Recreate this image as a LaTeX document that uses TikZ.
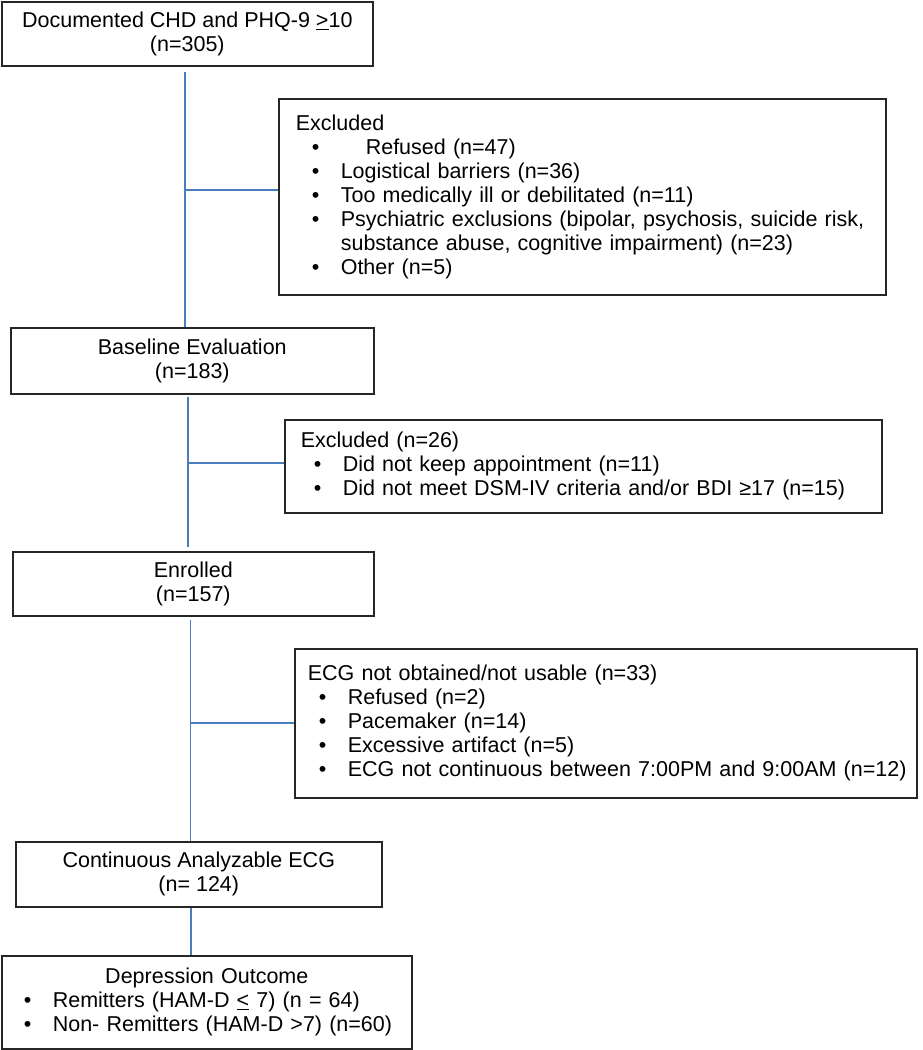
\documentclass[tikz,border=0pt]{standalone}
\usepackage{fontspec}
\setmainfont{Liberation Sans}
\newcommand\fs{\fontsize{21.5pt}{24pt}\selectfont}
\newcommand\bl[2]{\makebox[#2pt][l]{\hspace*{#1pt}\textbullet}}
\definecolor{conncol}{RGB}{74,126,187}
\begin{document}
\begin{tikzpicture}[x=1pt,y=-1pt,
  box/.style={draw=black!85, line width=1.6pt, inner sep=0pt, anchor=north west, font=\fs, align=center},
  lst/.style={box, align=left},
  conn/.style={draw=conncol, line width=1.3pt}]
\useasboundingbox (0,0) rectangle (923,1050);

\node[box, minimum width=371pt, minimum height=64pt] (b1) at (1,1) {Documented CHD and PHQ-9 \underline{>}10\\(n=305)};

\node[lst, minimum height=196pt, text width=573pt, inner xsep=17pt] (e1) at (278,98) {Excluded\\\bl{16}{45}\hspace*{25pt}Refused (n=47)\\\bl{16}{45}Logistical barriers (n=36)\\\bl{16}{45}Too medically ill or debilitated (n=11)\\\bl{16}{45}\mbox{Psychiatric exclusions (bipolar, psychosis, suicide risk,}\\\hspace*{45pt}substance abuse, cognitive impairment) (n=23)\\\bl{16}{45}Other (n=5)};

\node[box, minimum width=363pt, minimum height=66pt] (b2) at (10,327) {Baseline Evaluation\\(n=183)};

\node[lst, minimum height=93pt, text width=565pt, inner xsep=16pt] (e2) at (284,419) {Excluded (n=26)\\\bl{13}{42}Did not keep appointment (n=11)\\\bl{13}{42}Did not meet DSM-IV criteria and/or BDI ≥17 (n=15)};

\node[box, minimum width=361pt, minimum height=64pt] (b3) at (12,551) {Enrolled\\(n=157)};

\node[lst, minimum height=149pt, text width=596pt, inner xsep=13pt] (ecg) at (294,648) {ECG not obtained/not usable (n=33)\\\bl{11}{40}Refused (n=2)\\\bl{11}{40}Pacemaker (n=14)\\\bl{11}{40}Excessive artifact (n=5)\\\bl{11}{40}\mbox{ECG not continuous between 7:00PM and 9:00AM (n=12)}};

\node[box, minimum width=366pt, minimum height=65pt] (b4) at (15,841) {Continuous Analyzable ECG\\(n= 124)};

\node[lst, minimum height=93pt, text width=390pt, inner xsep=10pt] (b5) at (1,955) {\makebox[390pt][c]{Depression Outcome}\\\bl{12}{41}Remitters (HAM-D \underline{<} 7) (n = 64)\\\bl{12}{41}Non- Remitters (HAM-D >7) (n=60)};

\coordinate (k1) at (185,190);
\coordinate (k2) at (188,463);
\coordinate (k3) at (190.5,723);
\coordinate (k4) at (191,930);

\draw[conn, shorten <=5pt] (b1.south -| k1) -- (b2.north -| k1);
\draw[conn] (k1) -- (k1 -| e1.west);
\draw[conn, shorten <=2pt, shorten >=4pt] (b2.south -| k2) -- (b3.north -| k2);
\draw[conn] (k2) -- (k2 -| e2.west);
\draw[conn, shorten <=3pt] (b3.south -| k3) -- (b4.north -| k3);
\draw[conn] (k3) -- (k3 -| ecg.west);
\draw[conn] (b4.south -| k4) -- (b5.north -| k4);
\end{tikzpicture}
\end{document}
